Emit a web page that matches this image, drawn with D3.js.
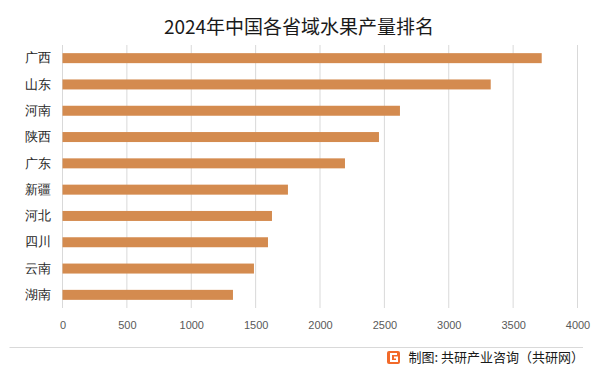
<!DOCTYPE html>
<html>
<head>
<meta charset="utf-8">
<script src="https://cdn.jsdelivr.net/npm/d3@7"></script>
<style>
  html, body { margin: 0; padding: 0; background: #fff; }
  svg { display: block; font-family: "Noto Sans CJK SC", "Noto Sans", sans-serif; }
</style>
</head>
<body>
<svg id="chart" width="601" height="369"></svg>
<script>
const provinces = ["广西", "山东", "河南", "陕西", "广东", "新疆", "河北", "四川", "云南", "湖南"];
const output = [3722, 3326, 2621, 2458, 2194, 1751, 1627, 1596, 1487, 1324];
const xTicks = [0, 500, 1000, 1500, 2000, 2500, 3000, 3500, 4000];

const svg = d3.select("#chart");
const margin = { top: 45, right: 23.5, bottom: 61, left: 62.5 };
const width = 601 - margin.left - margin.right;
const height = 369 - margin.top - margin.bottom;

svg.append("text")
  .attr("x", 299).attr("y", 34)
  .attr("text-anchor", "middle")
  .attr("font-size", 19)
  .attr("fill", "#1a1a1a")
  .text("2024年中国各省域水果产量排名");

const g = svg.append("g").attr("transform", `translate(${margin.left},${margin.top})`);

const x = d3.scaleLinear().domain([0, 4000]).range([0, width]);
const y = d3.scaleBand().domain(provinces).range([0, height]).paddingInner(0.62).paddingOuter(0.31);

// vertical gridlines
g.append("g")
  .selectAll("line")
  .data(xTicks)
  .join("line")
  .attr("x1", d => x(d)).attr("x2", d => x(d))
  .attr("y1", 0).attr("y2", height)
  .attr("stroke", "#d9d9d9").attr("stroke-width", 1);

g.append("g")
  .selectAll("rect")
  .data(output)
  .join("rect")
  .attr("x", x(0))
  .attr("y", (d, i) => y(provinces[i]))
  .attr("width", d => x(d) - x(0))
  .attr("height", y.bandwidth())
  .attr("fill", "#d48b4f");

const xAxis = g.append("g")
  .attr("transform", `translate(0,${height})`)
  .call(d3.axisBottom(x).tickValues(xTicks).tickSize(0).tickPadding(13).tickFormat(d3.format("d")));
xAxis.select(".domain").remove();
xAxis.selectAll("text").attr("font-size", 11).attr("fill", "#595959")
  .attr("font-family", "'Liberation Sans', Arial, sans-serif");

const yAxis = g.append("g")
  .call(d3.axisLeft(y).tickSize(0).tickPadding(12));
yAxis.select(".domain").remove();
yAxis.selectAll("text").attr("font-size", 13).attr("fill", "#262626");

// footer
svg.append("line")
  .attr("x1", 9.5).attr("x2", 583).attr("y1", 347.5).attr("y2", 347.5)
  .attr("stroke", "#d9d9d9");

const logo = svg.append("g").attr("transform", "translate(387,351)");
logo.append("rect").attr("width", 13).attr("height", 13).attr("rx", 2).attr("fill", "#f26a2a");
logo.append("path")
  .attr("d", "M10,3 H4 V10 H10 V6.5 H7")
  .attr("fill", "none").attr("stroke", "#fff").attr("stroke-width", 2);

svg.append("text")
  .attr("x", 584).attr("y", 362)
  .attr("text-anchor", "end")
  .attr("font-size", 13)
  .attr("fill", "#1a1a1a")
  .text("制图: 共研产业咨询（共研网）");
</script>
</body>
</html>
